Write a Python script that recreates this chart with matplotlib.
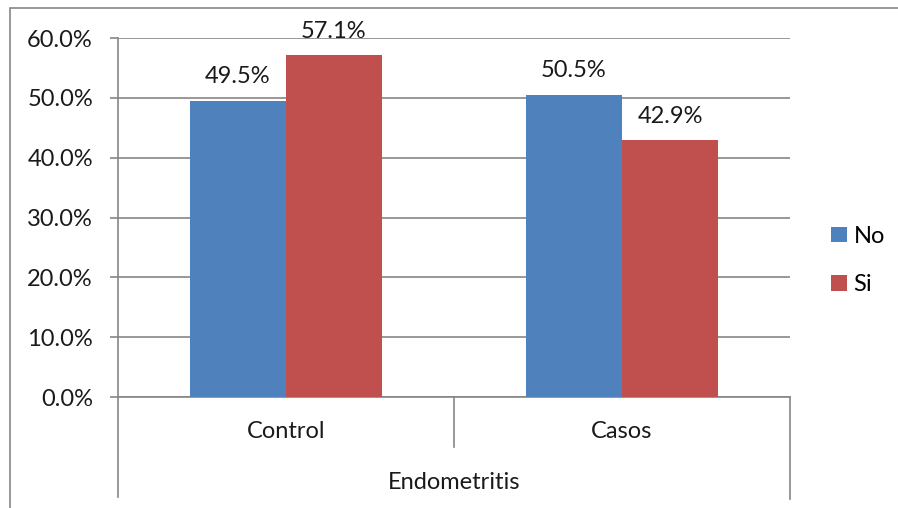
import numpy as np
import matplotlib
matplotlib.use("Agg")
from matplotlib import pyplot as plt
from matplotlib.patches import Rectangle
from matplotlib.lines import Line2D
from matplotlib.ticker import FuncFormatter, MultipleLocator

plt.rcParams['font.family'] = ['Lato', 'DejaVu Sans']

categories = ["Control", "Casos"]
group_label = "Endometritis"
series_names = ["No", "Si"]
no_vals = [49.5, 50.5]
si_vals = [57.1, 42.9]
colors = ["#4F81BD", "#C0504D"]
grid_col = "#868686"
fs = 17

W, H = 898, 508
fig = plt.figure(figsize=(W / 100, H / 100), dpi=100)
ax = fig.add_axes([118 / W, (H - 397) / H, (790 - 118) / W, (397 - 38) / H])

x = np.arange(len(categories)) + 0.5
bw = 96 / 336
for vals, off, c, name in [(no_vals, -bw / 2, colors[0], series_names[0]),
                           (si_vals, bw / 2, colors[1], series_names[1])]:
    bars = ax.bar(x + off, vals, width=bw, color=c, label=name, zorder=3)
    for b, v in zip(bars, vals):
        ax.annotate(f"{v:.1f}%", (b.get_x() + b.get_width() / 2, v),
                    xytext=(0, 17.5), textcoords="offset points",
                    ha="center", va="center", fontsize=fs, color="#1a1a1a")

ax.set_xlim(0, len(categories))
ax.set_ylim(0, 60)
ax.yaxis.set_major_locator(MultipleLocator(10))
ax.yaxis.set_major_formatter(FuncFormatter(lambda v, p: f"{v:.1f}%"))
ax.grid(axis="y", color=grid_col, linewidth=1.2, zorder=0)
ax.set_axisbelow(True)
for s in ["top", "right"]:
    ax.spines[s].set_visible(False)
for s in ["left", "bottom"]:
    ax.spines[s].set_color(grid_col)
    ax.spines[s].set_linewidth(1.2)
ax.tick_params(axis="y", length=6, width=1.2, color=grid_col, pad=12,
               labelsize=fs, labelcolor="#1a1a1a")
ax.set_xticks([])

# category labels and the divider lines under the x axis
trans = ax.get_xaxis_transform()
for xi, cat in zip(x, categories):
    ax.text(xi, -0.095, cat, transform=trans, ha="center", va="center",
            fontsize=fs, color="#1a1a1a")
ax.text(len(categories) / 2, -0.237, group_label, transform=trans,
        ha="center", va="center", fontsize=fs, color="#1a1a1a")
for xe, ybot in [(0, -0.279), (1, -0.139), (2, -0.284)]:
    ax.add_line(Line2D([xe, xe], [0, ybot], transform=trans, color=grid_col,
                       linewidth=1.2, clip_on=False))

leg = ax.legend(loc="center left", bbox_to_anchor=(1.03, 0.38), frameon=False,
                fontsize=fs, handlelength=0.64, handleheight=0.64,
                handletextpad=0.3, labelspacing=1.16)

# chart border (top and left edges fall inside the image)
fig.patches.append(Rectangle((10 / W, -0.1), 1.5, (H - 8) / H + 0.1,
                             transform=fig.transFigure, fill=False,
                             edgecolor=grid_col, linewidth=1.2))

fig.savefig("out.png", dpi=100)
